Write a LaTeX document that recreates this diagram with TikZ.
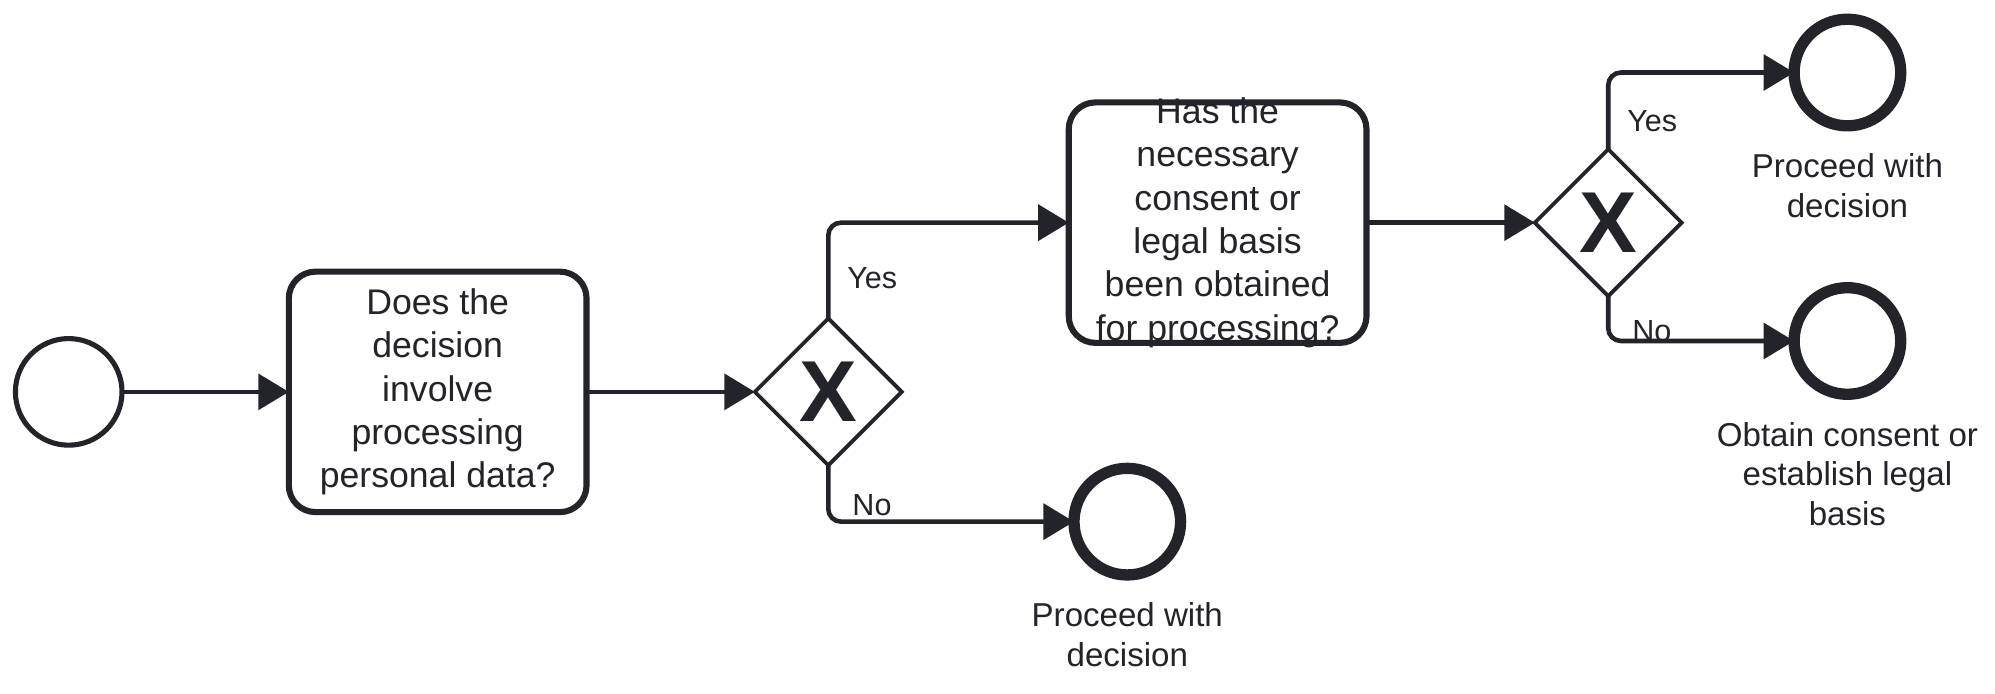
\documentclass[tikz,border=0pt]{standalone}
\usepackage{fontspec}
\setmainfont{Liberation Sans}
\usetikzlibrary{%
    arrows.meta,%
    shapes.geometric,%
    positioning%
}
\definecolor{ink}{RGB}{34,36,42}

\begin{document}
\begin{tikzpicture}[
  x=0.5pt, y=-0.5pt,
  every node/.style={outer sep=0pt},
  event/.style={circle, draw=ink, line width=2pt, minimum size=41.9pt,
    inner sep=0pt},
  endevent/.style={event, line width=4.45pt},
  task/.style={draw=ink, line width=2.4pt, rounded corners=10.5pt,
    minimum width=117pt, minimum height=94.5pt, inner sep=0pt},
  tasktext/.style={font={\fontsize{14}{17}\selectfont}, text=ink,
    align=center, inner sep=0pt},
  gateway/.style={diamond, aspect=1, draw=ink, line width=1.5pt,
    minimum size=57.7pt, inner sep=0pt, text=ink,
    font={\fontsize{34}{34}\selectfont\bfseries}},
  flow/.style={draw=ink, line width=1.8pt, rounded corners=5pt,
    -{Triangle[length=12pt,width=14pt]}},
  flowlabel/.style={font={\fontsize{12}{14}\selectfont}, text=ink,
    inner sep=0pt, anchor=west},
  endlabel/.style={font={\fontsize{13}{15.5}\selectfont}, text=ink,
    align=center, inner sep=0pt},
  ]
  % Canvas
  \fill[white] (0,0) rectangle (1568,545);
  \useasboundingbox (0,0) rectangle (1568,545);
  % Start event and first check
  \node[event] (start) at (54,308) {};
  \node[task] (chkdata) at (344,308) {};
  \node[tasktext] (chkdata-t) at (chkdata)
    {Does the\\decision\\involve\\processing\\personal data?};
  \node[gateway] (gw1) at (651,308) {X};
  % Second check
  \node[task] (chkbasis) at (957,175) {};
  \node[tasktext] (chkbasis-t) at (chkbasis)
    {Has the\\necessary\\consent or\\legal basis\\been obtained\\for processing?};
  \node[gateway] (gw2) at (1264,175) {X};
  % End events
  \node[endevent] (endA) at (886,410) {};
  \node[endevent] (endB) at (1452,57) {};
  \node[endevent] (endC) at (1452,268) {};
  \node[endlabel, below=11pt of endA] (endA-t) {Proceed with\\decision};
  \node[endlabel, below=11pt of endB] (endB-t) {Proceed with\\decision};
  \node[endlabel, below=11pt of endC] (endC-t)
    {Obtain consent or\\establish legal\\basis};
  % Sequence flows
  \draw[flow] (start) -- (chkdata);
  \draw[flow] (chkdata) -- (gw1);
  \draw[flow] (gw1.north) |- node[flowlabel, pos=0.21, xshift=7.5pt] (yes1) {Yes}
    (chkbasis.west);
  \draw[flow] (gw1.south) |- node[flowlabel, pos=0.353, xshift=9.5pt] (no1) {No}
    (endA.west);
  \draw[flow] (chkbasis) -- (gw2);
  \draw[flow] (gw2.north) |- node[flowlabel, pos=0.185, xshift=7.5pt] (yes2) {Yes}
    (endB.west);
  \draw[flow] (gw2.south) |- node[flowlabel, pos=0.387, xshift=9.5pt] (no2) {No}
    (endC.west);
\end{tikzpicture}
\end{document}
